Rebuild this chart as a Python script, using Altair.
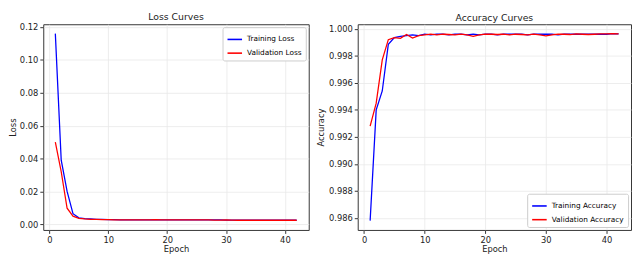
import altair as alt
import pandas as pd

epochs = list(range(1, 43))

train_loss = [0.1160, 0.0390, 0.0200, 0.0065, 0.0040, 0.0035, 0.0033, 0.0031, 0.0030, 0.0029,
              0.0029, 0.0028, 0.0028, 0.0028, 0.0028, 0.0028, 0.0028, 0.0028, 0.0028, 0.0027,
              0.0027, 0.0027, 0.0027, 0.0027, 0.0027, 0.0027, 0.0027, 0.0027, 0.0027, 0.0026,
              0.0026, 0.0026, 0.0025, 0.0025, 0.0025, 0.0025, 0.0025, 0.0025, 0.0025, 0.0025,
              0.0025, 0.0025]
val_loss = [0.0500, 0.0320, 0.0098, 0.0050, 0.0036, 0.0033, 0.0031, 0.0030, 0.0029, 0.0029,
            0.0028, 0.0028, 0.0028, 0.0028, 0.0028, 0.0028, 0.0028, 0.0029, 0.0028, 0.0028,
            0.0028, 0.0027, 0.0027, 0.0027, 0.0027, 0.0027, 0.0027, 0.0026, 0.0026, 0.0027,
            0.0026, 0.0025, 0.0025, 0.0025, 0.0025, 0.0025, 0.0025, 0.0025, 0.0025, 0.0025,
            0.0025, 0.0025]

train_acc = [0.98580, 0.99400, 0.99540, 0.99885, 0.99935, 0.99945, 0.99950, 0.99955, 0.99950, 0.99960,
             0.99955, 0.99960, 0.99960, 0.99955, 0.99960, 0.99960, 0.99955, 0.99960, 0.99955, 0.99960,
             0.99960, 0.99955, 0.99960, 0.99960, 0.99960, 0.99960, 0.99955, 0.99960, 0.99960, 0.99960,
             0.99960, 0.99955, 0.99960, 0.99960, 0.99960, 0.99960, 0.99960, 0.99960, 0.99960, 0.99960,
             0.99965, 0.99963]
val_acc = [0.99280, 0.99450, 0.99770, 0.99920, 0.99935, 0.99930, 0.99958, 0.99932, 0.99950, 0.99955,
           0.99960, 0.99955, 0.99960, 0.99958, 0.99955, 0.99960, 0.99955, 0.99944, 0.99955, 0.99960,
           0.99960, 0.99958, 0.99960, 0.99955, 0.99960, 0.99958, 0.99955, 0.99960, 0.99955, 0.99948,
           0.99955, 0.99960, 0.99960, 0.99958, 0.99962, 0.99960, 0.99958, 0.99960, 0.99962, 0.99963,
           0.99965, 0.99962]

loss_names = ["Training Loss", "Validation Loss"]
acc_names = ["Training Accuracy", "Validation Accuracy"]
line_colors = ["#0000ff", "#ff0000"]

loss_df = pd.DataFrame({
    "Epoch": epochs * 2,
    "Value": train_loss + val_loss,
    "Series": [loss_names[0]] * 42 + [loss_names[1]] * 42,
})
acc_df = pd.DataFrame({
    "Epoch": epochs * 2,
    "Value": train_acc + val_acc,
    "Series": [acc_names[0]] * 42 + [acc_names[1]] * 42,
})

FONT = "DejaVu Sans"

def legend(orient):
    return alt.Legend(
        title=None, orient=orient, offset=3,
        fillColor="white", strokeColor="#cccccc", cornerRadius=2,
        padding=4, symbolType="stroke", symbolSize=220, symbolStrokeWidth=1.6,
        labelFontSize=7.5, labelFont=FONT, rowPadding=2, labelLimit=200,
    )

xscale = alt.Scale(domain=[-1.05, 44.05], nice=False, zero=False)
xaxis = alt.Axis(values=[0, 10, 20, 30, 40], title="Epoch", format="d", titlePadding=1)

def title(t):
    return alt.TitleParams(t, fontSize=9.5, font=FONT, fontWeight="normal", offset=2, color="#222222")

loss_chart = alt.Chart(loss_df).mark_line(strokeWidth=1.3, clip=True).encode(
    x=alt.X("Epoch:Q", scale=xscale, axis=xaxis),
    y=alt.Y("Value:Q", scale=alt.Scale(domain=[-0.0034, 0.1217], nice=False, zero=False),
            axis=alt.Axis(values=[0.0, 0.02, 0.04, 0.06, 0.08, 0.10, 0.12], format=".2f", title="Loss",
                          titlePadding=2)),
    color=alt.Color("Series:N", scale=alt.Scale(domain=loss_names, range=line_colors),
                    legend=legend("top-right")),
).properties(width=271, height=210, title=title("Loss Curves"))

acc_chart = alt.Chart(acc_df).mark_line(strokeWidth=1.3, clip=True).encode(
    x=alt.X("Epoch:Q", scale=xscale, axis=xaxis),
    y=alt.Y("Value:Q", scale=alt.Scale(domain=[0.98511, 1.00034], nice=False, zero=False),
            axis=alt.Axis(values=[0.986, 0.988, 0.990, 0.992, 0.994, 0.996, 0.998, 1.000],
                          format=".3f", title="Accuracy", titlePadding=3)),
    color=alt.Color("Series:N", scale=alt.Scale(domain=acc_names, range=line_colors),
                    legend=legend("bottom-right")),
).properties(width=279, height=210, title=title("Accuracy Curves"))

chart = alt.hconcat(loss_chart, acc_chart, spacing=6).resolve_scale(
    color="independent", y="independent"
).properties(
    padding={"left": 0, "top": 0, "right": 0, "bottom": 0},
    background="white",
).configure_axis(
    labelFont=FONT, titleFont=FONT, labelFontSize=8.5, titleFontSize=8.5,
    titleFontWeight="normal", labelColor="#222222", titleColor="#222222",
    gridColor="#e8e8e8", gridWidth=0.8, domain=False,
    tickColor="#333333", tickSize=3.5, labelPadding=2,
).configure_view(
    stroke="#333333", strokeWidth=1,
)

chart.save("out.html", embed_options={"renderer": "svg", "actions": False})
